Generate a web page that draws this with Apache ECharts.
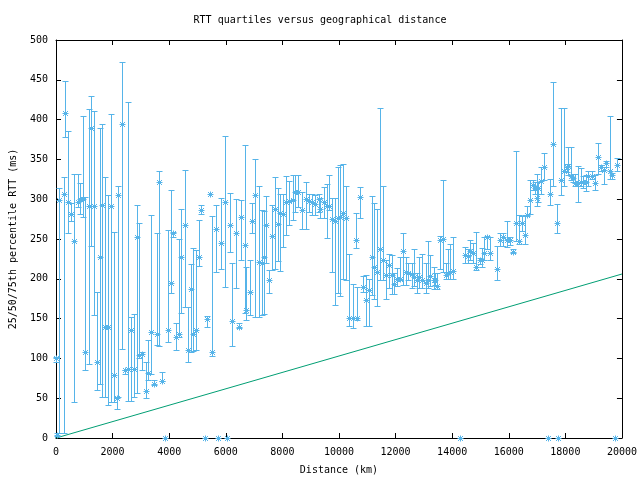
<!DOCTYPE html>
<html>
<head>
<meta charset="utf-8">
<script src="https://cdn.jsdelivr.net/npm/echarts@6/dist/echarts.min.js"></script>
<style>
  html, body { margin: 0; padding: 0; background: #fff; }
  #chart { width: 640px; height: 480px; }
</style>
</head>
<body>
<div id="chart"></div>
<script>
  // distance in km, RTT quartiles in ms
  var distance = [0, 35, 94, 270, 328, 410, 528, 645, 762, 856, 938, 1032, 1149, 1243, 1349, 1455, 1560, 1619, 1736, 1830,
    1947, 2053, 2170, 2205, 2322, 2440, 2545, 2651, 2756, 2862, 2944, 3050, 3167, 3261, 3343, 3461, 3555, 3649, 3731, 3848,
    3942, 4059, 4141, 4235, 4353, 4435, 4552, 4669, 4763, 4845, 4939, 5045, 5139, 5256, 5350, 5432, 5526, 5643, 5725, 5842,
    5960, 6042, 6136, 6229, 6347, 6452, 6546, 6664, 6723, 6840, 6934, 7040, 7157, 7274, 7368, 7427, 7544, 7638, 7743, 7837,
    7931, 8037, 8131, 8248, 8365, 8459, 8565, 8694, 8834, 8952, 9046, 9163, 9280, 9339, 9456, 9573, 9656, 9749, 9866, 9949,
    10040, 10126, 10243, 10360, 10478, 10595, 10653, 10736, 10853, 10947, 11064, 11158, 11240, 11357, 11439, 11557, 11651, 11768, 11885, 11944,
    12061, 12143, 12272, 12354, 12448, 12565, 12648, 12741, 12824, 12941, 13058, 13152, 13234, 13352, 13376, 13470, 13587, 13669, 13786, 13845,
    13939, 14033, 14267, 14467, 14549, 14643, 14736, 14854, 14971, 15053, 15135, 15229, 15346, 15581, 15675, 15792, 15933, 16027, 16167, 16261,
    16379, 16461, 16578, 16660, 16755, 16849, 16931, 17013, 17048, 17142, 17259, 17377, 17459, 17576, 17693, 17752, 17846, 17951, 18045, 18104,
    18186, 18280, 18339, 18432, 18550, 18632, 18714, 18808, 18925, 19042, 19160, 19277, 19359, 19453, 19570, 19652, 19746, 19840]
  var rtt25 = [95, 2, 6, 6, 378, 257, 272, 45, 290, 282, 278, 85, 93, 241, 154, 60, 68, 52, 52, 41,
    45, 45, 37, 52, 112, 81, 47, 47, 52, 56, 100, 85, 50, 73, 81, 66, 117, 115, 71, 0,
    121, 182, 253, 110, 127, 157, 165, 96, 108, 109, 110, 216, 282, 0, 140, 306, 103, 209, 0, 212,
    190, 0, 234, 115, 188, 138, 223, 157, 148, 154, 258, 152, 152, 154, 156, 220, 182, 211, 212, 222,
    210, 240, 255, 267, 274, 284, 290, 262, 263, 284, 280, 280, 284, 276, 276, 251, 286, 209, 167, 182,
    178, 200, 198, 141, 138, 239, 148, 277, 184, 141, 141, 180, 174, 166, 198, 198, 175, 188, 181, 181,
    191, 199, 192, 192, 198, 188, 191, 182, 189, 188, 182, 189, 191, 187, 192, 187, 212, 209, 200, 200,
    200, 200, 0, 220, 220, 223, 220, 211, 219, 215, 223, 237, 224, 198, 241, 241, 240, 242, 232, 247,
    244, 260, 244, 279, 281, 312, 307, 291, 297, 306, 324, 0, 293, 317, 257, 0, 305, 316, 334, 330,
    324, 322, 317, 296, 317, 314, 310, 316, 325, 312, 332, 336, 319, 340, 325, 325, 0, 335]
  var rtt50 = [100, 4, 299, 306, 408, 296, 282, 247, 297, 300, 300, 108, 292, 389, 292, 96, 228, 293, 140, 140,
    291, 79, 50, 305, 394, 85, 87, 136, 87, 252, 104, 106, 59, 82, 133, 68, 131, 322, 71, 0,
    136, 195, 257, 127, 131, 227, 267, 110, 187, 131, 136, 228, 286, 0, 149, 306, 108, 262, 0, 245,
    296, 0, 267, 147, 257, 140, 278, 242, 161, 183, 272, 305, 221, 220, 228, 268, 199, 254, 288, 269,
    283, 281, 296, 298, 299, 309, 309, 286, 300, 298, 297, 294, 300, 288, 296, 291, 291, 275, 272, 276,
    278, 283, 276, 151, 151, 249, 151, 303, 190, 173, 186, 227, 215, 208, 238, 224, 205, 217, 205, 193,
    200, 200, 235, 208, 207, 206, 202, 198, 202, 199, 195, 199, 203, 199, 198, 191, 249, 250, 205, 207,
    209, 210, 0, 230, 229, 235, 233, 215, 224, 223, 232, 252, 232, 212, 249, 253, 249, 249, 234, 270,
    247, 270, 255, 280, 299, 318, 314, 302, 314, 323, 340, 0, 307, 369, 270, 0, 324, 336, 340, 342,
    329, 327, 320, 320, 322, 322, 321, 329, 329, 320, 353, 340, 337, 346, 335, 330, 0, 343]
  var rtt75 = [102, 6, 314, 328, 448, 386, 295, 332, 332, 320, 404, 303, 413, 430, 411, 184, 389, 395, 328, 305,
    407, 259, 52, 317, 472, 86, 422, 152, 156, 293, 270, 108, 96, 123, 280, 73, 257, 335, 83, 0,
    261, 312, 259, 144, 250, 288, 337, 165, 218, 239, 236, 274, 293, 0, 153, 306, 279, 293, 0, 302,
    379, 0, 308, 220, 300, 145, 299, 368, 215, 223, 295, 351, 317, 286, 285, 304, 211, 293, 328, 314,
    306, 307, 329, 323, 330, 330, 331, 309, 322, 306, 306, 305, 307, 301, 315, 319, 331, 301, 302, 341,
    343, 344, 316, 231, 193, 283, 190, 315, 203, 205, 200, 304, 295, 288, 414, 316, 224, 231, 230, 207,
    213, 227, 258, 227, 220, 220, 238, 207, 227, 231, 220, 247, 230, 215, 207, 207, 254, 324, 220, 238,
    244, 252, 0, 240, 238, 249, 245, 259, 226, 239, 252, 254, 252, 241, 258, 257, 272, 252, 238, 360,
    280, 279, 280, 291, 324, 324, 322, 332, 322, 340, 358, 0, 326, 447, 294, 0, 414, 414, 344, 365,
    365, 332, 332, 342, 339, 329, 330, 336, 336, 330, 370, 343, 341, 348, 404, 333, 0, 352]

  // propagation bound line end points
  var boundDistance = [0, 20000]
  var boundRtt = [0, 206]

  var xTicks = { min: 0, max: 20000, interval: 2000 }
  var yTicks = { min: 0, max: 500, interval: 50 }

  var blue = '#56b4e9'
  var green = '#009e73'
  var font = 'DejaVu Sans Mono'

  var quartiles = distance.map(function (d, i) {
    return [d, rtt25[i], rtt50[i], rtt75[i]]
  })
  var bound = boundDistance.map(function (d, i) {
    return [d, boundRtt[i]]
  })

  function px(v) {
    return Math.round(v) + 0.5
  }

  function seg(x1, y1, x2, y2) {
    return {
      type: 'line',
      shape: { x1: x1, y1: y1, x2: x2, y2: y2 },
      style: { stroke: blue, lineWidth: 1 }
    }
  }

  function renderErrorBar(params, api) {
    var x = api.value(0)
    var lo = api.coord([x, api.value(1)])
    var md = api.coord([x, api.value(2)])
    var hi = api.coord([x, api.value(3)])
    var cx = px(lo[0])
    var yl = px(lo[1])
    var yh = px(hi[1])
    var ym = px(md[1])
    var cap = 3
    var s = 3
    var d = 2.5
    var children = []
    if (yl - yh > 0.5) {
      children.push(seg(cx, yl, cx, yh))
      children.push(seg(cx - cap, yl, cx + cap, yl))
      children.push(seg(cx - cap, yh, cx + cap, yh))
    }
    // asterisk at the median
    children.push(seg(cx - s, ym, cx + s, ym))
    children.push(seg(cx, ym - s, cx, ym + s))
    children.push(seg(cx - d, ym - d, cx + d, ym + d))
    children.push(seg(cx - d, ym + d, cx + d, ym - d))
    return { type: 'group', children: children }
  }

  var chart = echarts.init(document.getElementById('chart'))

  var axisCommon = {
    type: 'value',
    splitLine: { show: false },
    axisLine: { show: true, onZero: false, lineStyle: { color: '#000', width: 1 } },
    axisTick: { show: true, inside: true, length: 5, lineStyle: { color: '#000' } }
  }

  chart.setOption({
    animation: false,
    backgroundColor: '#fff',
    title: {
      text: 'RTT quartiles versus geographical distance',
      left: 'center',
      top: 15,
      padding: 0,
      textStyle: { fontFamily: font, fontSize: 10, fontWeight: 'normal', color: '#000' }
    },
    grid: { left: 54, right: 18, top: 40, bottom: 42, show: false },
    xAxis: [
      Object.assign({}, axisCommon, {
        min: xTicks.min, max: xTicks.max, interval: xTicks.interval,
        position: 'bottom',
        name: 'Distance (km)',
        nameLocation: 'middle',
        nameGap: 27,
        nameTextStyle: { fontFamily: font, fontSize: 10, color: '#000' },
        axisLabel: {
          fontFamily: font, fontSize: 10, color: '#000', margin: 9,
          formatter: function (v) { return String(v) }
        }
      }),
      Object.assign({}, axisCommon, {
        min: xTicks.min, max: xTicks.max, interval: xTicks.interval,
        position: 'top',
        axisLabel: { show: false }
      })
    ],
    yAxis: [
      Object.assign({}, axisCommon, {
        min: yTicks.min, max: yTicks.max, interval: yTicks.interval,
        position: 'left',
        name: '25/50/75th percentile RTT (ms)',
        nameLocation: 'middle',
        nameGap: 38,
        nameRotate: 90,
        nameTextStyle: { fontFamily: font, fontSize: 10, color: '#000' },
        axisLabel: { fontFamily: font, fontSize: 10, color: '#000', margin: 8 }
      }),
      Object.assign({}, axisCommon, {
        min: yTicks.min, max: yTicks.max, interval: yTicks.interval,
        position: 'right',
        axisLabel: { show: false }
      })
    ],
    series: [
      {
        type: 'line',
        data: bound,
        symbol: 'none',
        lineStyle: { color: green, width: 1 },
        silent: true,
        z: 1
      },
      {
        type: 'custom',
        data: quartiles,
        renderItem: renderErrorBar,
        encode: { x: 0, y: [1, 2, 3] },
        clip: false,
        silent: true,
        z: 2
      }
    ]
  })
</script>
</body>
</html>
